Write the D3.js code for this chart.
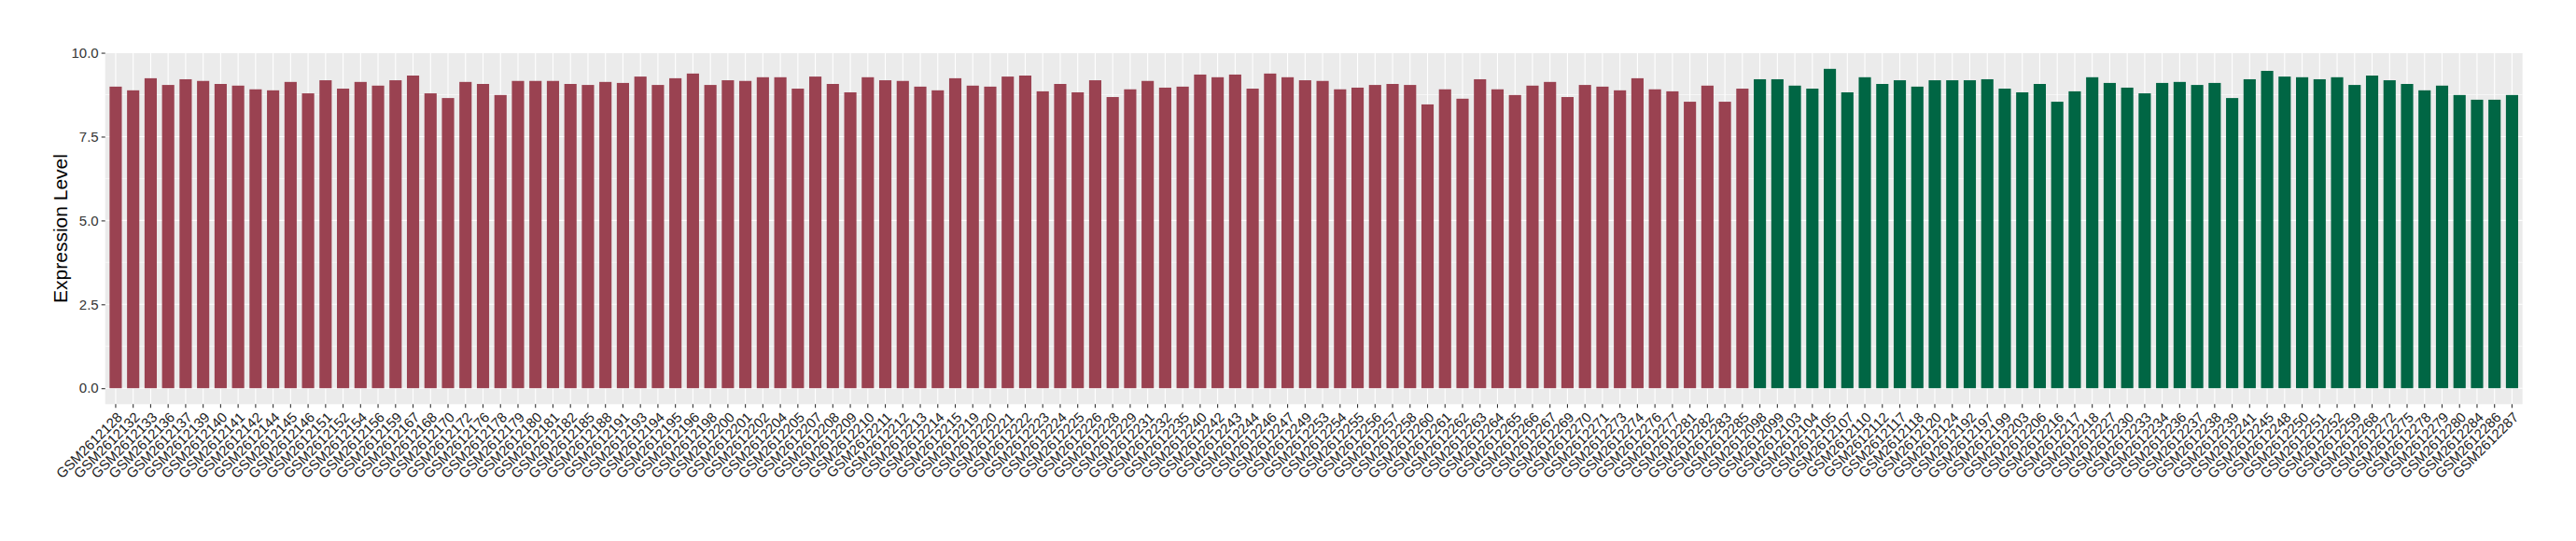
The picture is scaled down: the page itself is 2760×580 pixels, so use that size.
<!DOCTYPE html>
<html>
<head>
<meta charset="utf-8">
<script src="https://cdn.jsdelivr.net/npm/d3@7"></script>
<style>
  body { margin: 0; background: #fff; }
  text { font-family: "Liberation Sans", Arial, sans-serif; }
</style>
</head>
<body>
<div id="chart"></div>
<script>
// sample ids, first group (red) then second group (green)
const groupA = ['2128','2132','2133','2136','2137','2139','2140','2141','2142','2144',
  '2145','2146','2151','2152','2154','2156','2159','2167','2168','2170',
  '2172','2176','2178','2179','2180','2181','2182','2185','2188','2191',
  '2193','2194','2195','2196','2198','2200','2201','2202','2204','2205',
  '2207','2208','2209','2210','2211','2212','2213','2214','2215','2219',
  '2220','2221','2222','2223','2224','2225','2226','2228','2229','2231',
  '2232','2235','2240','2242','2243','2244','2246','2247','2249','2253',
  '2254','2255','2256','2257','2258','2260','2261','2262','2263','2264',
  '2265','2266','2267','2269','2270','2271','2273','2274','2276','2277',
  '2281','2282','2283','2285'].map(d => 'GSM261' + d);
const groupB = ['2098','2099','2103','2104','2105','2107','2110','2112','2117','2118',
  '2120','2124','2192','2197','2199','2203','2206','2216','2217','2218',
  '2227','2230','2233','2234','2236','2237','2238','2239','2241','2245',
  '2248','2250','2251','2252','2259','2268','2272','2275','2278','2279',
  '2280','2284','2286','2287'].map(d => 'GSM261' + d);

const valuesA = [8.99,8.88,9.24,9.04,9.21,9.16,9.07,9.02,8.91,8.88,
  9.13,8.79,9.18,8.93,9.13,9.02,9.18,9.32,8.79,8.65,
  9.13,9.07,8.74,9.16,9.16,9.16,9.07,9.04,9.13,9.10,
  9.29,9.04,9.24,9.38,9.04,9.18,9.16,9.27,9.27,8.93,
  9.29,9.07,8.82,9.27,9.18,9.16,8.99,8.88,9.24,9.02,
  8.99,9.29,9.32,8.85,9.07,8.82,9.18,8.68,8.91,9.16,
  8.96,8.99,9.35,9.27,9.35,8.93,9.38,9.27,9.18,9.16,
  8.91,8.96,9.04,9.07,9.04,8.46,8.91,8.63,9.21,8.91,
  8.74,9.02,9.13,8.68,9.04,8.99,8.88,9.24,8.91,8.85,
  8.54,9.02,8.54,8.93];
const valuesB = [9.21,9.21,9.02,8.93,9.52,8.82,9.27,9.07,9.18,8.99,
  9.18,9.18,9.18,9.21,8.93,8.82,9.07,8.54,8.85,9.27,
  9.10,8.96,8.79,9.10,9.13,9.04,9.10,8.65,9.21,9.46,
  9.29,9.27,9.21,9.27,9.04,9.32,9.18,9.07,8.88,9.02,
  8.74,8.60,8.60,8.74];

const yTicks = [0, 2.5, 5, 7.5, 10];
const yMinor = [1.25, 3.75, 6.25, 8.75];
const colors = {A: '#9a4251', B: '#006644'};

const data = groupA.map((s, i) => ({sample: s, value: valuesA[i], group: 'A'}))
  .concat(groupB.map((s, i) => ({sample: s, value: valuesB[i], group: 'B'})));

const W = 2760, H = 580;
const panel = {left: 112.7, right: 2702.7, top: 56.7, bottom: 433.3};

const svg = d3.select('#chart').append('svg')
  .attr('width', W)
  .attr('height', H);

const x = d3.scaleBand()
  .domain(data.map(d => d.sample))
  .range([panel.left, panel.right])
  .paddingInner(0.3)
  .paddingOuter(0.25);

const ymax = d3.max(data, d => d.value);
const y = d3.scaleLinear()
  .domain([-0.05 * ymax, ymax * 1.05])
  .range([panel.bottom, panel.top]);

// panel background
svg.append('rect')
  .attr('x', panel.left).attr('y', panel.top)
  .attr('width', panel.right - panel.left)
  .attr('height', panel.bottom - panel.top)
  .attr('fill', '#ebebeb');

// grid
svg.selectAll('.minor').data(yMinor).enter().append('line')
  .attr('x1', panel.left).attr('x2', panel.right)
  .attr('y1', d => y(d)).attr('y2', d => y(d))
  .attr('stroke', '#fff').attr('stroke-width', 0.55);
svg.selectAll('.major').data(yTicks).enter().append('line')
  .attr('x1', panel.left).attr('x2', panel.right)
  .attr('y1', d => y(d)).attr('y2', d => y(d))
  .attr('stroke', '#fff').attr('stroke-width', 1.1);
svg.selectAll('.vgrid').data(data).enter().append('line')
  .attr('x1', d => x(d.sample) + x.bandwidth() / 2)
  .attr('x2', d => x(d.sample) + x.bandwidth() / 2)
  .attr('y1', panel.top).attr('y2', panel.bottom)
  .attr('stroke', '#fff').attr('stroke-width', 1.1);

// bars
svg.selectAll('.bar').data(data).enter().append('rect')
  .attr('x', d => x(d.sample))
  .attr('y', d => y(d.value))
  .attr('width', x.bandwidth())
  .attr('height', d => y(0) - y(d.value))
  .attr('fill', d => colors[d.group]);

// y axis
const yAxis = svg.append('g')
  .attr('transform', `translate(${panel.left},0)`)
  .call(d3.axisLeft(y).tickValues(yTicks).tickFormat(d3.format('.1f')).tickSize(4).tickPadding(3));
yAxis.select('.domain').remove();
yAxis.selectAll('line').attr('stroke', '#333').attr('stroke-width', 1.1);
yAxis.selectAll('text')
  .attr('fill', '#333')
  .style('font-size', '15px')
  .style('font-family', '"Liberation Sans", Arial, sans-serif');

// x axis
const xAxis = svg.append('g')
  .attr('transform', `translate(0,${panel.bottom})`)
  .call(d3.axisBottom(x).tickSize(4).tickPadding(2));
xAxis.select('.domain').remove();
xAxis.selectAll('line').attr('stroke', '#333').attr('stroke-width', 1.1);
xAxis.selectAll('text')
  .attr('fill', '#222')
  .attr('text-anchor', 'end')
  .attr('y', 0)
  .attr('dy', '0.75em')
  .attr('transform', 'translate(0,7) rotate(-45)')
  .style('font-size', '15px')
  .style('font-family', '"Liberation Sans", Arial, sans-serif');

// y title
svg.append('text')
  .attr('transform', `translate(72,${(panel.top + panel.bottom) / 2}) rotate(-90)`)
  .attr('text-anchor', 'middle')
  .attr('fill', '#000')
  .style('font-size', '21px')
  .text('Expression Level');
</script>
</body>
</html>
